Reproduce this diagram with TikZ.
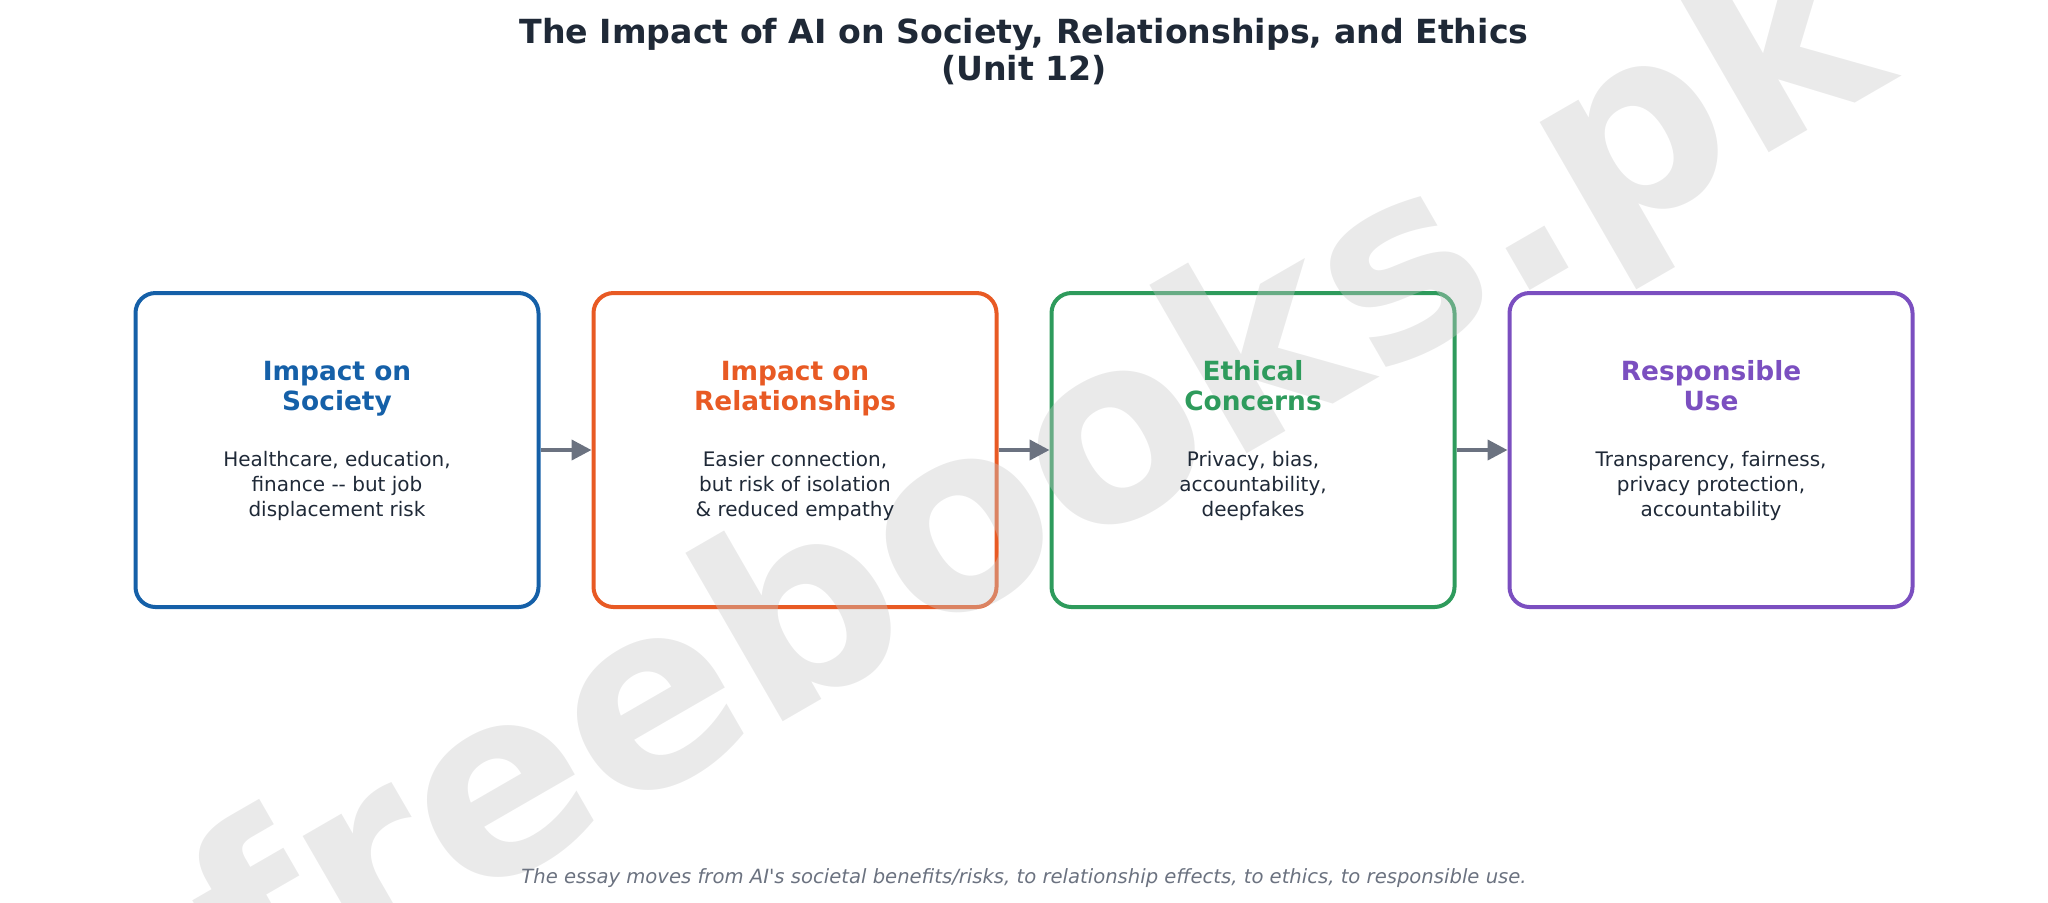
\documentclass[tikz,border=0pt]{standalone}
\usepackage{fontspec}
\newfontfamily\dvs{DejaVu Sans}
\usetikzlibrary{arrows.meta}
\definecolor{titlec}{HTML}{1F2937}
\definecolor{bluec}{HTML}{1560A8}
\definecolor{orangec}{HTML}{E85A24}
\definecolor{greenc}{HTML}{2E9B5C}
\definecolor{purplec}{HTML}{7B4FC0}
\definecolor{arrowc}{HTML}{6B7280}
\definecolor{wmark}{HTML}{C8C8C8}
\tikzset{
  card/.style={draw=#1, line width=2pt, rounded corners=10pt, minimum width=201.5pt, minimum height=157pt, inner sep=0pt},
  head/.style={text=#1, font=\dvs\fontsize{13.2}{15}\selectfont\bfseries, align=center, inner sep=0pt},
  body/.style={text=titlec, font=\dvs\fontsize{10}{12.5}\selectfont, align=center, inner sep=0pt},
  flow/.style={draw=arrowc, line width=2pt, -{Triangle[length=10pt,width=10pt]}},
}
\begin{document}
\begin{tikzpicture}[x=0.5pt,y=-0.5pt]
\useasboundingbox (0,0) rectangle (2048,902);
\clip (0,0) rectangle (2048,902);

\node[card=bluec] (b1) at (337,450) {};
\node[card=orangec] (b2) at (795,450) {};
\node[card=greenc] (b3) at (1253,450) {};
\node[card=purplec] (b4) at (1711,450) {};

\node[rotate=30, text=wmark, text opacity=0.38, font=\dvs\fontsize{128}{128}\selectfont\bfseries, inner sep=0pt] (wm) at (1043,490) {freebooks.pk};

\node[font=\dvs\fontsize{16.6}{18.5}\selectfont\bfseries, text=titlec, align=center, inner sep=0pt] (title) at (1024,55) {\strut The Impact of AI on Society, Relationships, and Ethics\\(Unit 12)\strut};

\node[head=bluec] (h1) at (337,389.5) {\strut Impact on\\Society\strut};
\node[head=orangec] (h2) at (795,389.5) {\strut Impact on\\Relationships\strut};
\node[head=greenc] (h3) at (1253,389.5) {\strut Ethical\\Concerns\strut};
\node[head=purplec] (h4) at (1711,389.5) {\strut Responsible\\Use\strut};

\node[body] (t1) at (337,486) {\strut Healthcare, education,\\finance -- but job\\displacement risk\strut};
\node[body] (t2) at (795,486) {\strut Easier connection,\\but risk of isolation\\\& reduced empathy\strut};
\node[body] (t3) at (1253,486) {\strut Privacy, bias,\\accountability,\\deepfakes\strut};
\node[body] (t4) at (1711,486) {\strut Transparency, fairness,\\privacy protection,\\accountability\strut};

\draw[flow] (b1.east) -- (b2.west);
\draw[flow] (b2.east) -- (b3.west);
\draw[flow] (b3.east) -- (b4.west);

\node[font=\dvs\fontsize{9.8}{11}\selectfont\itshape, text=arrowc, inner sep=0pt] (foot) at (1024,878) {The essay moves from AI's societal benefits/risks, to relationship effects, to ethics, to responsible use.};
\end{tikzpicture}
\end{document}
